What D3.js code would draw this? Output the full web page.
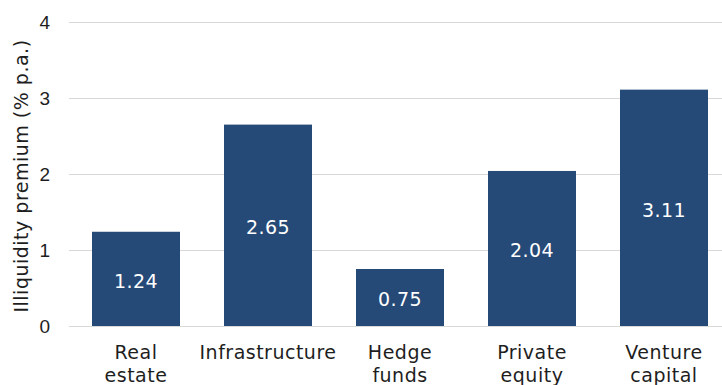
<!DOCTYPE html>
<html>
<head>
<meta charset="utf-8">
<script src="https://cdn.jsdelivr.net/npm/d3@7"></script>
<style>
  html, body { margin: 0; padding: 0; background: #ffffff; }
  svg { display: block; font-family: "DejaVu Sans", Verdana, sans-serif; }
</style>
</head>
<body>
<svg id="chart" width="722" height="385"></svg>
<script>
// Illiquidity premium by asset class (% p.a.)
const categories = [["Real", "estate"], ["Infrastructure"], ["Hedge", "funds"], ["Private", "equity"], ["Venture", "capital"]];
const premiums = [1.24, 2.65, 0.75, 2.04, 3.11];
const yTicks = [0, 1, 2, 3, 4];
const yLabel = "Illiquidity premium (% p.a.)";

const W = 722, H = 385;
const plot = { left: 69, right: 722, top: 22, bottom: 326 };
const barColor = "#264a77";
const textColor = "#1e1e1e";
const gridColor = "#d9d9d9";

const svg = d3.select("#chart");

const keys = categories.map(c => c.join(" "));
const x = d3.scaleBand()
  .domain(keys)
  .range([70, 730])
  .paddingInner(1 / 3)
  .paddingOuter(1 / 6);

const y = d3.scaleLinear()
  .domain([0, 4])
  .range([plot.bottom, plot.top]);

// Horizontal gridlines and y tick labels
const yAxis = d3.axisLeft(y)
  .tickValues(yTicks)
  .tickFormat(d3.format("d"))
  .tickSize(-(plot.right - plot.left))
  .tickPadding(19);

const gy = svg.append("g")
  .attr("transform", `translate(${plot.left},0)`)
  .call(yAxis);
gy.select(".domain").remove();
gy.selectAll(".tick line").attr("stroke", gridColor).attr("stroke-width", 1.2);
gy.selectAll(".tick text")
  .attr("fill", textColor)
  .style("font-size", "19px")
  .attr("dy", "0.36em");

// Bars
svg.append("g").selectAll("rect")
  .data(premiums)
  .join("rect")
  .attr("x", (d, i) => x(keys[i]))
  .attr("width", x.bandwidth())
  .attr("y", d => y(d))
  .attr("height", d => y(0) - y(d))
  .attr("fill", barColor);

// Value labels centred in each bar
svg.append("g").selectAll("text")
  .data(premiums)
  .join("text")
  .attr("x", (d, i) => x(keys[i]) + x.bandwidth() / 2)
  .attr("y", d => (y(d) + y(0)) / 2 + 2)
  .attr("dy", "0.36em")
  .attr("text-anchor", "middle")
  .attr("fill", "#ffffff")
  .style("font-size", "19px")
  .style("letter-spacing", "0.4px")
  .text(d => d.toFixed(2));

// Category labels (wrapped onto two lines where needed)
const cat = svg.append("g").selectAll("text")
  .data(categories)
  .join("text")
  .attr("x", (d, i) => x(keys[i]) + x.bandwidth() / 2)
  .attr("y", 359)
  .attr("text-anchor", "middle")
  .attr("fill", textColor)
  .style("font-size", "19px")
  .style("letter-spacing", "0.5px");
cat.each(function (lines) {
  const t = d3.select(this);
  const cx = t.attr("x");
  lines.forEach((line, j) => {
    t.append("tspan")
      .attr("x", cx)
      .attr("dy", j === 0 ? 0 : 22.5)
      .text(line);
  });
});

// Y axis title
svg.append("text")
  .attr("transform", "translate(27.5,176) rotate(-90)")
  .attr("text-anchor", "middle")
  .attr("fill", textColor)
  .style("font-size", "19px")
  .style("letter-spacing", "0.5px")
  .text(yLabel);
</script>
</body>
</html>
